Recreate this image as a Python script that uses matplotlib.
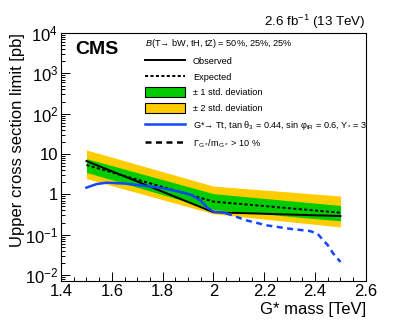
import matplotlib
matplotlib.use("Agg")
import matplotlib.pyplot as plt
from matplotlib.lines import Line2D
from matplotlib.patches import Patch
from matplotlib.ticker import FixedLocator, FixedFormatter, LogLocator, NullFormatter, MultipleLocator

plt.rcParams['font.family'] = ['Liberation Sans', 'DejaVu Sans']
plt.rcParams['mathtext.fontset'] = 'custom'
plt.rcParams['mathtext.rm'] = 'Liberation Sans'
plt.rcParams['mathtext.it'] = 'Liberation Sans:italic'
plt.rcParams['mathtext.bf'] = 'Liberation Sans:bold'

# limits vs G* mass
mass = [1.5, 2.0, 2.5]
observed = [6.7, 0.36, 0.29]
expected = [5.35, 0.66, 0.35]
band1_lo = [3.5, 0.42, 0.22]
band1_hi = [7.7, 1.04, 0.53]
band2_lo = [2.45, 0.33, 0.155]
band2_hi = [12.6, 1.6, 0.91]

# theory curve, narrow-width part and wide (>10%) part
theo_x = [1.50, 1.54, 1.58, 1.65, 1.74, 1.80, 1.87, 1.91, 1.95, 1.975, 2.0, 2.03, 2.05]
theo_y = [1.47, 1.80, 1.95, 1.85, 1.60, 1.42, 1.15, 0.98, 0.70, 0.47, 0.37, 0.36, 0.34]
wide_x = [2.05, 2.13, 2.21, 2.30, 2.38, 2.41, 2.435, 2.45, 2.47, 2.50]
wide_y = [0.34, 0.226, 0.17, 0.14, 0.123, 0.105, 0.069, 0.055, 0.035, 0.021]

xticks = [1.4, 1.6, 1.8, 2.0, 2.2, 2.4, 2.6]
xticklabels = ["1.4", "1.6", "1.8", "2", "2.2", "2.4", "2.6"]
yticks = [1e-2, 1e-1, 1, 10, 1e2, 1e3, 1e4]
yticklabels = ["$10^{-2}$", "$10^{-1}$", "1", "10", "$10^{2}$", "$10^{3}$", "$10^{4}$"]

green = '#00cc00'
yellow = '#ffcc00'
blue = '#1346ff'

fig = plt.figure(figsize=(4.07, 3.31), dpi=100)
ax = fig.add_axes([0.150, 0.151, 0.749, 0.749])

ax.fill_between(mass, band2_lo, band2_hi, color=yellow, lw=0)
ax.fill_between(mass, band1_lo, band1_hi, color=green, lw=0)
ax.plot(mass, expected, color='black', lw=1.4, dashes=(1.6, 1.2))
ax.plot(mass, observed, color='black', lw=1.4)
ax.plot(theo_x, theo_y, color=blue, lw=1.8)
ax.plot(wide_x, wide_y, color=blue, lw=1.8, dashes=(2.4, 1.8))

ax.set_yscale('log')
ax.set_xlim(1.4, 2.6)
ax.set_ylim(10 ** -2.15, 1e4)

ax.yaxis.set_major_locator(FixedLocator(yticks))
ax.yaxis.set_major_formatter(FixedFormatter(yticklabels))
ax.yaxis.set_minor_locator(LogLocator(base=10, subs=range(2, 10), numticks=20))
ax.yaxis.set_minor_formatter(NullFormatter())
ax.xaxis.set_major_locator(FixedLocator(xticks))
ax.xaxis.set_major_formatter(FixedFormatter(xticklabels))
ax.xaxis.set_minor_locator(MultipleLocator(0.05))

ax.tick_params(which='both', direction='in', top=False, right=False, labelsize=12, width=0.7)
ax.tick_params(which='major', length=6.5, pad=2)
ax.tick_params(which='minor', length=3.2)
for s in ax.spines.values():
    s.set_linewidth(0.8)

ax.set_xlabel("G* mass [TeV]", fontsize=12, loc='right')
ax.xaxis.set_label_coords(1.0, -0.085)
ax.set_ylabel("Upper cross section limit [pb]", fontsize=12, loc='top')
ax.yaxis.set_label_coords(-0.118, 1.0)

ax.text(0.046, 0.914, "CMS", transform=ax.transAxes, fontsize=14, fontweight='bold', va='baseline', ha='left')
fig.text(0.899, 0.92, "2.6 fb$^{-1}$ (13 TeV)", fontsize=9.6, ha='right', va='baseline')

handles = [
    Line2D([], [], color='black', lw=1.4),
    Line2D([], [], color='black', lw=1.4, dashes=(1.6, 1.2)),
    Patch(facecolor=green, edgecolor='black', lw=0.8),
    Patch(facecolor=yellow, edgecolor='black', lw=0.8),
    Line2D([], [], color=blue, lw=1.8),
    Line2D([], [], color='black', lw=1.8, dashes=(2.4, 1.8)),
]
labels = [
    "Observed",
    "Expected",
    "± 1 std. deviation",
    "± 2 std. deviation",
    "G*→ Tt, tan θ$_{3}$ = 0.44, sin φ$_{\\mathrm{tR}}$ = 0.6, Y$_{*}$ = 3",
    "Γ$_{\\mathrm{G*}}$/m$_{\\mathrm{G*}}$ > 10 %",
]
leg = ax.legend(handles, labels, loc='upper left', bbox_to_anchor=(0.356, 0.887),
                bbox_transform=fig.transFigure, frameon=False, fontsize=6.6,
                title="$\\mathit{B}$(T→ bW, tH, tZ) = 50%, 25%, 25%",
                title_fontsize=6.6, alignment='left', borderpad=0, borderaxespad=0,
                handlelength=4.4, handleheight=1.25, handletextpad=0.85, labelspacing=0.62)

fig.savefig('out.png', dpi=100)
